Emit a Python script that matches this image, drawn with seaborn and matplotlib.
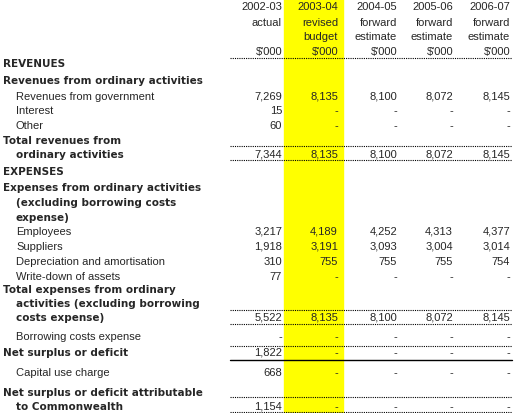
import matplotlib
matplotlib.use("Agg")
import matplotlib.pyplot as plt
import seaborn as sns

sns.set_style("white")
plt.rcParams['font.family'] = ['Liberation Sans', 'DejaVu Sans']

years = ["2002-03", "2003-04", "2004-05", "2005-06", "2006-07"]
hdr2 = ["actual", "revised", "forward", "forward", "forward"]
hdr3 = ["", "budget", "estimate", "estimate", "estimate"]
units = ["$'000"] * 5

labels = ["REVENUES", "Revenues from ordinary activities", "Revenues from government",
          "Interest", "Other", "Total revenues from", "ordinary activities",
          "EXPENSES", "Expenses from ordinary activities", "(excluding borrowing costs",
          "expense)", "Employees", "Suppliers", "Depreciation and amortisation",
          "Write-down of assets", "Total expenses from ordinary",
          "activities (excluding borrowing", "costs expense)", "Borrowing costs expense",
          "Net surplus or deficit", "Capital use charge", "",
          "Net surplus or deficit attributable", "to Commonwealth"]
bold = [1, 1, 0, 0, 0, 1, 1, 1, 1, 1, 1, 0, 0, 0, 0, 1, 1, 1, 0, 1, 0, 0, 1, 1]
indent = [0, 0, 1, 1, 1, 0, 1, 0, 0, 1, 1, 1, 1, 1, 1, 0, 1, 1, 1, 0, 1, 0, 0, 1]
row_y = [64, 81, 97, 111, 126, 141, 155, 172, 188, 203, 218, 232, 247, 262, 277,
         290, 304, 318, 337, 353, 373, 383, 393, 407]
col_2002 = ["", "", "7,269", "15", "60", "", "7,344", "", "", "", "", "3,217", "1,918", "310", "77",
            "", "", "5,522", "-", "1,822", "668", "", "", "1,154"]
col_2003 = ["", "", "8,135", "-", "-", "", "8,135", "", "", "", "", "4,189", "3,191", "755", "-",
            "", "", "8,135", "-", "-", "-", "", "", "-"]
col_2004 = ["", "", "8,100", "-", "-", "", "8,100", "", "", "", "", "4,252", "3,093", "755", "-",
            "", "", "8,100", "-", "-", "-", "", "", "-"]
col_2005 = ["", "", "8,072", "-", "-", "", "8,072", "", "", "", "", "4,313", "3,004", "755", "-",
            "", "", "8,072", "-", "-", "-", "", "", "-"]
col_2006 = ["", "", "8,145", "-", "-", "", "8,145", "", "", "", "", "4,377", "3,014", "754", "-",
            "", "", "8,145", "-", "-", "-", "", "", "-"]
cols = [col_2002, col_2003, col_2004, col_2005, col_2006]

fig = plt.figure(figsize=(5.14, 4.14), dpi=100)
ax = fig.add_axes([0, 0, 1, 1])
ax.set_xlim(0, 514)
ax.set_ylim(414, 0)
ax.axis("off")

ax.axvspan(284, 343, ymin=0.0, ymax=1.0, color="#ffff00", zorder=0)

xr = [282, 338, 397, 453, 510]
fs = 8.0
for i in range(5):
    for txt, y in zip([years[i], hdr2[i], hdr3[i], units[i]], [7, 23, 37, 52]):
        ax.text(xr[i], y, txt, ha="right", va="center", fontsize=fs)

for k, lab in enumerate(labels):
    y = row_y[k]
    if bold[k]:
        ax.text(3 + 13 * indent[k], y, lab, ha="left", va="center", fontsize=7.5,
                fontweight="bold", family="DejaVu Sans")
    else:
        ax.text(3 + 13 * indent[k], y, lab, ha="left", va="center", fontsize=fs)
    for i, c in enumerate(cols):
        if c[k]:
            ax.text(xr[i], y, c[k], ha="right", va="center", fontsize=fs)

dot = dict(color="black", lw=0.8, ls=(0, (1, 1)))
for y in [59, 147, 161, 311, 325, 347, 398, 413]:
    ax.plot([230, 512], [y, y], **dot)
ax.plot([230, 512], [361, 361], color="black", lw=1)

fig.savefig("out.png", dpi=100)
